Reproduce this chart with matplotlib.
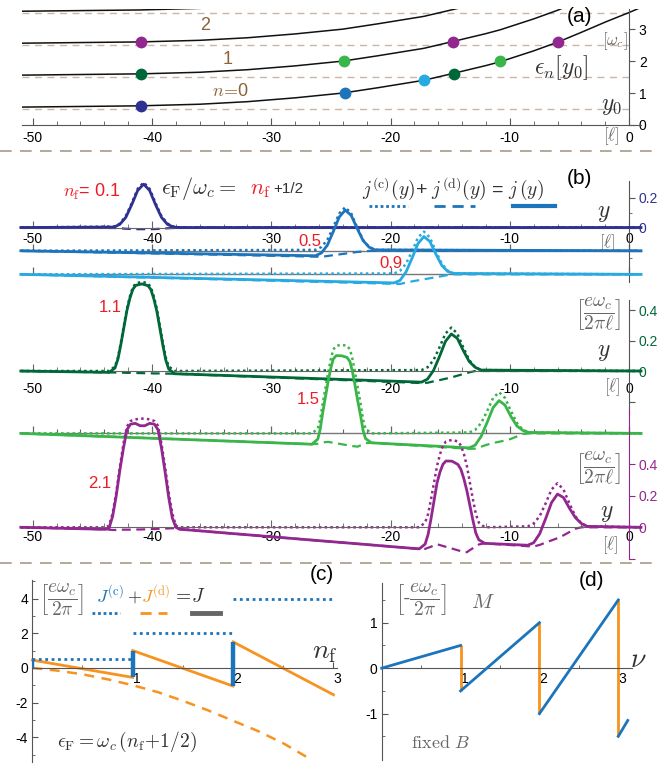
import numpy as np
import matplotlib
matplotlib.use('Agg')
import matplotlib.pyplot as plt

plt.rcParams['font.family'] = ['Liberation Sans', 'DejaVu Sans']
plt.rcParams['mathtext.fontset'] = 'cm'
plt.rcParams['axes.unicode_minus'] = False

# ======================= DATA =======================
# (a) edge potential V(y0): eps_n(y0) = n + 1/2 + V(y0)   [omega_c]
a_y0 = [-51, -46, -41, -36, -32, -28, -24, -21, -17.2, -14.8, -12, -10.8, -8, -6, -4, -2, 0, 1]
a_V = [0.06, 0.08, 0.1, 0.15, 0.23, 0.35, 0.5, 0.67, 0.9, 1.11, 1.36, 1.48, 1.82, 2.09, 2.4, 2.72, 3.02, 3.18]
a_levels = [0, 1, 2, 3]
a_ref_levels = [0.5, 1.5, 2.5, 3.5]
a_yticks = [0, 1, 2, 3]
x_ticks = [-50, -40, -30, -20, -10, 0]
x_ticklabels = ['-50', '-40', '-30', '-20', '-10', '0']
x_minor = [-48, -46, -44, -42, -38, -36, -34, -32, -28, -26, -24, -22, -18, -16, -14, -12, -8, -6, -4, -2]

dot_nf = [0.1, 0.5, 0.9, 1.1, 1.1, 1.5, 1.5, 2.1, 2.1, 2.1]
dot_y0 = [-40.9, -23.8, -17.2, -40.9, -14.7, -23.9, -10.8, -40.9, -14.8, -6.0]
dot_eps = [0.6, 1.0, 1.4, 1.6, 1.6, 2.0, 2.0, 2.6, 2.6, 2.6]

# (b) current densities [e omega_c / (2 pi l)]
b01_x = [-51, -43.2, -42.7, -42.2, -41.7, -41.2, -40.7, -40.2, -39.7, -39.2, -38.7, -38.2, -37.7, 1]
b01_jc = [0, 0.006, 0.026, 0.075, 0.162, 0.258, 0.30, 0.258, 0.162, 0.075, 0.026, 0.006, 0, 0]
b01_jd = [0, -0.003, -0.005, -0.008, -0.010, -0.011, -0.011, -0.011, -0.010, -0.008, -0.005, -0.003, 0, 0]
b01_j = [0, 0.003, 0.021, 0.067, 0.152, 0.247, 0.289, 0.247, 0.152, 0.067, 0.021, 0.003, 0, 0]

b05_x = [-51, -26.3, -25.8, -25.3, -24.8, -24.3, -23.8, -23.3, -22.8, -22.3, -21.8, -21.3, 1]
b05_jc = [0, 0.006, 0.025, 0.072, 0.157, 0.249, 0.29, 0.249, 0.157, 0.072, 0.025, 0.006, 0]
b05_jd = [0, -0.039, -0.040, -0.035, -0.029, -0.024, -0.019, -0.013, -0.008, -0.004, -0.001, 0, 0]
b05_j = [0, -0.033, -0.015, 0.037, 0.128, 0.225, 0.271, 0.236, 0.149, 0.068, 0.024, 0.006, 0]

b09_x = [-51, -19.7, -19.2, -18.7, -18.2, -17.7, -17.2, -16.7, -16.2, -15.7, -15.2, -14.7, 1]
b09_jc = [0, 0.006, 0.024, 0.071, 0.154, 0.245, 0.285, 0.245, 0.154, 0.071, 0.024, 0.006, 0]
b09_jd = [0, -0.063, -0.064, -0.055, -0.047, -0.040, -0.033, -0.026, -0.019, -0.012, -0.005, 0, 0]
b09_j = [0, -0.057, -0.040, 0.016, 0.107, 0.205, 0.252, 0.219, 0.135, 0.059, 0.019, 0.006, 0]

b11_x = [-51, -43.6, -43.1, -42.85, -42.6, -42.35, -42.1, -41.85, -41.6, -41.35, -40.85, -40.35, -40.1,
         -39.85, -39.6, -39.35, -39.1, -38.85, -38.6, -38.1,
         -17.4, -16.9, -16.4, -15.9, -15.4, -14.9, -14.4, -13.9, -13.4, -12.9, -12.4, 1]
b11_jc = [0, 0, 0.03, 0.09, 0.19, 0.30, 0.41, 0.49, 0.55, 0.575, 0.585, 0.575, 0.55, 0.49, 0.41, 0.30,
          0.19, 0.09, 0.03, 0,
          0.006, 0.024, 0.071, 0.154, 0.245, 0.285, 0.245, 0.154, 0.071, 0.024, 0.006, 0]
b11_jd = [0, -0.009, -0.010, -0.010, -0.011, -0.011, -0.012, -0.012, -0.013, -0.013, -0.014, -0.015, -0.015,
          -0.016, -0.016, -0.016, -0.017, -0.017, -0.017, -0.018,
          -0.079, -0.077, -0.068, -0.060, -0.051, -0.042, -0.031, -0.020, -0.009, 0, 0, 0]
b11_j = [0, -0.009, 0.020, 0.080, 0.179, 0.289, 0.398, 0.478, 0.537, 0.562, 0.571, 0.560, 0.535, 0.474,
         0.394, 0.284, 0.173, 0.073, 0.013, -0.018,
         -0.073, -0.053, 0.003, 0.094, 0.194, 0.243, 0.214, 0.134, 0.062, 0.024, 0.006, 0]

b15_x = [-51, -26.6, -26.1, -25.9, -25.7, -25.45, -25.2, -25.0, -24.8, -24.55, -24.1, -23.65, -23.4, -23.2,
         -23.0, -22.75, -22.5, -22.3, -22.1, -21.6,
         -13.4, -12.9, -12.4, -11.9, -11.4, -10.9, -10.4, -9.9, -9.4, -8.9, -8.4, 1]
b15_jc = [0, 0, 0.03, 0.09, 0.19, 0.30, 0.41, 0.49, 0.55, 0.575, 0.58, 0.575, 0.55, 0.49, 0.41, 0.30, 0.19,
          0.09, 0.03, 0,
          0.006, 0.023, 0.068, 0.146, 0.232, 0.27, 0.232, 0.146, 0.068, 0.023, 0.006, 0]
b15_jd = [0, -0.071, -0.068, -0.064, -0.061, -0.057, -0.056, -0.059, -0.062, -0.065, -0.071, -0.077, -0.080,
          -0.083, -0.085, -0.087, -0.078, -0.071, -0.064, -0.062,
          -0.101, -0.100, -0.087, -0.074, -0.063, -0.055, -0.047, -0.036, -0.020, -0.004, 0, 0]
b15_j = [0, -0.071, -0.038, 0.026, 0.129, 0.243, 0.354, 0.431, 0.488, 0.510, 0.509, 0.498, 0.470, 0.407,
         0.325, 0.213, 0.112, 0.019, -0.034, -0.062,
         -0.095, -0.077, -0.019, 0.072, 0.169, 0.215, 0.185, 0.110, 0.048, 0.019, 0.006, 0]

b21_x = [-51, -43.9, -43.6, -43.3, -43.0, -42.7, -42.4, -42.1, -41.8, -41.4, -41.0, -40.6, -40.2, -39.8,
         -39.5, -39.2, -38.9, -38.6, -38.3, -38.0, -37.7,
         -17.6, -17.1, -16.85, -16.6, -16.35, -16.1, -15.85, -15.6, -15.35, -14.85, -14.35, -14.1, -13.85,
         -13.6, -13.35, -13.1, -12.85, -12.6, -12.1,
         -8.5, -8.0, -7.5, -7.0, -6.5, -6.0, -5.5, -5.0, -4.5, -4.0, -3.5, 1]
b21_jc = [0, 0, 0.01, 0.09, 0.22, 0.38, 0.53, 0.64, 0.675, 0.685, 0.69, 0.69, 0.685, 0.675, 0.645, 0.53,
          0.38, 0.22, 0.09, 0.01, 0,
          0.0, 0.03, 0.085, 0.18, 0.285, 0.39, 0.465, 0.52, 0.545, 0.555, 0.545, 0.52, 0.465, 0.39, 0.285,
          0.18, 0.085, 0.03, 0.0,
          0.006, 0.024, 0.07, 0.151, 0.24, 0.28, 0.24, 0.151, 0.07, 0.024, 0.006, 0]
b21_jd = [0, -0.013, -0.015, -0.017, -0.017, -0.016, -0.015, -0.015, -0.015, -0.014, -0.014, -0.013, -0.012,
          -0.011, -0.010, -0.009, -0.008, -0.007, -0.006, -0.006, -0.012,
          -0.137, -0.137, -0.13, -0.123, -0.115, -0.108, -0.113, -0.119, -0.124, -0.135, -0.146, -0.152,
          -0.157, -0.158, -0.145, -0.133, -0.121, -0.109, -0.102,
          -0.120, -0.122, -0.112, -0.097, -0.083, -0.069, -0.051, -0.030, -0.009, 0, 0, 0]
b21_j = [0, -0.013, -0.005, 0.07, 0.20, 0.36, 0.50, 0.62, 0.655, 0.66, 0.645, 0.645, 0.66, 0.655, 0.62,
         0.50, 0.35, 0.19, 0.06, 0.0, -0.012,
         -0.137, -0.107, -0.045, 0.057, 0.17, 0.282, 0.352, 0.401, 0.421, 0.42, 0.399, 0.368, 0.308, 0.232,
         0.14, 0.047, -0.036, -0.079, -0.102,
         -0.114, -0.098, -0.042, 0.054, 0.157, 0.211, 0.189, 0.121, 0.061, 0.024, 0.006, 0]

# (c) total currents [e omega_c / 2 pi]
c_J_nf = [[0, 1], [1, 2], [2, 3]]
c_J = [[0.45, -0.55], [1.0, -1.05], [1.5, -1.55]]
c_Jc = [0.5, 2.0, 4.0]
c_Jd_nf = [0, 0.25, 0.5, 0.75, 1, 1.25, 1.5, 1.75, 2, 2.25, 2.5, 2.78]
c_Jd = [0, -0.16, -0.37, -0.66, -1.0, -1.4, -1.9, -2.45, -3.05, -3.65, -4.35, -5.3]
c_jump_nf = [0, 1, 2]
c_jump_lo = [0, -0.55, -1.05]
c_jump_hi = [0.5, 1.0, 1.5]

# (d) magnetization [-e omega_c / 2 pi]
d_nu = [[0, 1], [1, 2], [2, 3], [3, 3.12]]
d_M = [[0, 0.5], [-0.5, 1.0], [-1.0, 1.5], [-1.5, -1.15]]
d_jump_nu = [1, 2, 3]
d_jump_hi = [0.5, 1.0, 1.5]
d_jump_lo = [-0.5, -1.0, -1.5]

# ======================= STYLE =======================
COL = {0.1: '#2e3192', 0.5: '#1c75bc', 0.9: '#27aae1', 1.1: '#006838', 1.5: '#39b54a', 2.1: '#92278f'}
RED = '#ed1c24'
BROWN = '#8c6239'
ORANGE = '#f7931e'
BLUE = '#1c75bc'
AXC = '#555555'
TXT = '#333333'
GRY = '#666666'

W, H = 657, 766
fig = plt.figure(figsize=(W / 100, H / 100), dpi=100)


def add_ax(l, t, r, b):
    ax = fig.add_axes([l / W, 1 - b / H, (r - l) / W, (b - t) / H])
    ax.patch.set_alpha(0)
    return ax


XL = (-50.9, 1.0)

# ======================= (a) =======================
axA = add_ax(22, 9, 641, 125)
axA.set_xlim(*XL)
axA.set_ylim(0, 3.63)
for s in ['top', 'left']:
    axA.spines[s].set_visible(False)
axA.spines['right'].set_position(('data', 0))
for s in ['right', 'bottom']:
    axA.spines[s].set_color(AXC)
axA.yaxis.set_ticks_position('right')
axA.set_yticks(a_yticks)
axA.set_yticklabels([str(v) for v in a_yticks])
axA.tick_params(axis='y', direction='out', length=4, colors=AXC, labelcolor='k', labelsize=10, pad=3)
axA.set_xticks(x_ticks)
axA.set_xticklabels(x_ticklabels)
axA.set_xticks(x_minor, minor=True)
axA.tick_params(axis='x', which='major', direction='in', length=5, colors=AXC, labelcolor='k', labelsize=10, pad=4)
axA.tick_params(axis='x', which='minor', direction='in', length=3, colors=AXC)
axA.hlines(a_ref_levels, XL[0], 0, colors='#c8b7a6', linestyles=(0, (5, 4)), lw=1.0)
for n in a_levels:
    axA.plot(a_y0, [n + 0.5 + v for v in a_V], color='#111111', lw=1.1)
for nf, y0, e in zip(dot_nf, dot_y0, dot_eps):
    axA.plot([y0], [e], 'o', ms=8.5, color=COL[nf], mec='none', zorder=4)

# ======================= (b) =======================
def setup_b(ax, ylim, yticks, ylabels, lcol, scol, pad):
    ax.set_xlim(*XL)
    ax.set_ylim(*ylim)
    for s in ['top', 'left']:
        ax.spines[s].set_visible(False)
    ax.spines['right'].set_position(('data', 0))
    ax.spines['right'].set_color(scol)
    ax.spines['bottom'].set_position(('data', 0))
    ax.spines['bottom'].set_color('#666666')
    ax.yaxis.set_ticks_position('right')
    ax.set_yticks(yticks)
    ax.set_yticklabels(ylabels)
    ax.tick_params(axis='y', direction='out', length=4, colors=scol, labelcolor=lcol, labelsize=10, pad=3)
    ax.set_xticks(x_ticks)
    ax.set_xticklabels(x_ticklabels)
    ax.set_xticks(x_minor, minor=True)
    ax.tick_params(axis='x', which='major', direction='in', length=5, colors='#666666', labelcolor='k',
                   labelsize=10, pad=pad)
    ax.tick_params(axis='x', which='minor', direction='in', length=3, colors='#666666')


def draw_curve(ax, x, jc, jd, j, off, col, base=True, minor=False):
    if base:
        ax.plot(XL, [off, off], color='#777777', lw=1.0, clip_on=False, zorder=1)
        ax.plot(x_ticks, [off] * len(x_ticks), ls='none', marker=2, ms=5, mew=0.9, color='#666666',
                clip_on=False, zorder=1)
        if minor:
            ax.plot(x_minor, [off] * len(x_minor), ls='none', marker=2, ms=3, mew=0.8, color='#666666',
                    clip_on=False, zorder=1)
    ax.plot(x, np.array(jc) + off, ls=(0, (1, 1.3)), lw=1.8, color=col, clip_on=False, zorder=2)
    ax.plot(x, np.array(jd) + off, ls=(0, (4, 2.5)), lw=1.6, color=col, clip_on=False, zorder=2)
    ax.plot(x, np.array(j) + off, ls='-', lw=2.0, color=col, clip_on=False, zorder=3,
            solid_joinstyle='round')


# b1
axB1 = add_ax(22, 181, 641, 282)
setup_b(axB1, (-0.363, 0.31), [0, 0.2], ['0', '0.2'], COL[0.1], '#555555', 3)
axB1.set_yticks([0.1, -0.2], minor=True)
axB1.tick_params(axis='y', which='minor', direction='out', length=2.5, colors='#555555')
draw_curve(axB1, b01_x, b01_jc, b01_jd, b01_j, 0.0, COL[0.1], base=False)
draw_curve(axB1, b05_x, b05_jc, b05_jd, b05_j, -0.155, COL[0.5])
draw_curve(axB1, b09_x, b09_jc, b09_jd, b09_j, -0.312, COL[0.9])

# b2
axB2 = add_ax(22, 300, 641, 415)
setup_b(axB2, (-0.2885, 0.4656), [-0.2, 0, 0.2, 0.4], ['', '0', '0.2', '0.4'], COL[1.1], '#555555', 8)
draw_curve(axB2, b11_x, b11_jc, b11_jd, b11_j, 0.0, COL[1.1], base=False)
draw_curve(axB2, b15_x, b15_jc, b15_jd, b15_j, -0.409, COL[1.5], minor=True)

# b3
axB3 = add_ax(22, 410, 641, 559)
setup_b(axB3, (-0.2013, 0.7448), [-0.2, 0, 0.2, 0.4], ['', '0', '0.2', '0.4'], COL[2.1], COL[2.1], 2)
draw_curve(axB3, b21_x, b21_jc, b21_jd, b21_j, 0.0, COL[2.1], base=False)

# ======================= (c) =======================
axC = add_ax(32.3, 580, 337, 762)
axC.set_xlim(0, 3.035)
axC.set_ylim(-5.43, 5.07)
for s in ['top', 'right']:
    axC.spines[s].set_visible(False)
axC.spines['bottom'].set_position(('data', 0))
for s in ['left', 'bottom']:
    axC.spines[s].set_color(AXC)
axC.set_xticks([1, 2, 3])
axC.set_xticklabels(['1', '2', '3'])
axC.set_xticks([0.5, 1.5, 2.5], minor=True)
axC.set_yticks([-4, -2, 0, 2, 4])
axC.set_yticklabels(['-4', '-2', '0', '2', '4'])
axC.set_yticks([-5, -3, -1, 1, 3, 5], minor=True)
axC.tick_params(which='major', direction='in', length=4, colors=AXC, labelcolor='k', labelsize=10, pad=3)
axC.tick_params(which='minor', direction='in', length=2.5, colors=AXC)
for lab in axC.get_xticklabels():
    lab.set_ha('left')
for xs, js in zip(c_J_nf, c_J):
    axC.plot(xs, js, color=ORANGE, lw=2.0, clip_on=False)
for (x0, x1), jc in zip(c_J_nf, c_Jc):
    axC.plot([x0, x1], [jc, jc], ls=(0, (1, 1.3)), lw=2.0, color=BLUE, clip_on=False)
axC.plot(c_Jd_nf, c_Jd, ls=(0, (4, 3)), lw=1.8, color=ORANGE, clip_on=False)
axC.vlines(c_jump_nf, c_jump_lo, c_jump_hi, colors=BLUE, lw=3.2, zorder=4)

# ======================= (d) =======================
axD = add_ax(381.7, 582.7, 631.7, 760)
axD.set_xlim(0, 3.17)
axD.set_ylim(-2.02, 1.88)
for s in ['top', 'right']:
    axD.spines[s].set_visible(False)
axD.spines['bottom'].set_position(('data', 0))
for s in ['left', 'bottom']:
    axD.spines[s].set_color(AXC)
axD.set_xticks([1, 2, 3])
axD.set_xticklabels(['1', '2', '3'])
axD.set_xticks([0.5, 1.5, 2.5], minor=True)
axD.set_yticks([-1, 0, 1])
axD.set_yticklabels(['-1', '0', '1'])
axD.set_yticks([-1.5, -0.5, 0.5, 1.5], minor=True)
axD.tick_params(which='major', direction='in', length=4, colors=AXC, labelcolor='k', labelsize=10, pad=3)
axD.tick_params(which='minor', direction='in', length=2.5, colors=AXC)
for lab in axD.get_xticklabels():
    lab.set_ha('left')
axD.vlines(d_jump_nu, d_jump_lo, d_jump_hi, colors=ORANGE, lw=2.0, zorder=2)
for xs, ms in zip(d_nu, d_M):
    axD.plot(xs, ms, color=BLUE, lw=2.0, zorder=3, clip_on=False)

# ======================= overlay (text, separators, legend samples) =======================
ov = fig.add_axes([0, 0, 1, 1])
ov.set_xlim(0, W)
ov.set_ylim(H, 0)
ov.axis('off')
ov.patch.set_alpha(0)
ov.set_zorder(10)


def T(x, y, s, size=12, color=TXT, ha='center', va='center', **kw):
    ov.text(x, y, s, fontsize=size, color=color, ha=ha, va=va, **kw)


for yy in [151, 563]:
    ov.plot([0, W], [yy, yy], color='#a89a8c', lw=1.2, ls=(0, (7, 5)))

# (a) texts
T(580, 17, '(a)', 15, 'k')
T(615, 41, r'$[\omega_c]$', 12, GRY)
T(561, 68, r'$\epsilon_n[y_0]$', 17)
T(612, 106, r'$y_0$', 17)
T(611, 136, r'$[\ell]$', 12, GRY)
T(205, 25, '2', 13, BROWN)
T(228, 60, '1', 13, BROWN)
T(231, 92, r'$n\!=\!$0', 13, BROWN)

# (b) texts
T(579, 178, '(b)', 15, 'k')
T(63, 192, r'$n_{\rm f}$= 0.1', 13, RED, ha='left')
T(161, 189, r'$\epsilon_{\rm F}/\omega_c=$', 16, ha='left')
T(250, 190, r'$n_{\rm f}$', 16, RED, ha='left')
T(273, 189, '+1/2', 11, TXT, ha='left')
T(362, 189, r'$j^{\rm (c)}(y)$+ $j^{\rm (d)}(y)$ = $j\,(y)$', 14, ha='left')
ov.plot([369, 408], [206, 206], ls=(0, (1, 1)), lw=2, color=BLUE)
ov.plot([434, 475], [206, 206], ls=(0, (4, 2.5)), lw=2, color=BLUE)
ov.plot([513, 555], [206, 206], ls='-', lw=3, color=BLUE)
for yy in [213, 352]:
    T(604, yy, r'$y$', 17)
T(607, 513, r'$y$', 17)
T(607, 243, r'$[\ell]$', 12, GRY)
T(612, 387, r'$[\ell]$', 12, GRY)
T(610, 545, r'$[\ell]$', 12, GRY)
T(310, 241, '0.5', 12, RED)
T(391, 264, '0.9', 12, RED)
T(110, 307, '1.1', 12, RED)
T(308, 400, '1.5', 12, RED)
T(100, 483, '2.1', 12, RED)
T(598, 314, r'$\left[\dfrac{e\omega_c}{2\pi\ell}\right]$', 14, GRY)
T(598, 468, r'$\left[\dfrac{e\omega_c}{2\pi\ell}\right]$', 14, GRY)

# (c) texts
T(322, 574, '(c)', 15, 'k')
T(62, 600, r'$\left[\dfrac{e\omega_c}{2\pi}\right]$', 14, GRY)
T(96, 595, r'$J^{\rm (c)}$', 13, BLUE, ha='left')
T(127, 597, r'$+$', 13, TXT, ha='left')
T(141, 595, r'$J^{\rm (d)}$', 13, ORANGE, ha='left')
T(172, 597, r'$=\!J$', 14, TXT, ha='left')
ov.plot([92, 120], [613, 613], ls=(0, (1, 1)), lw=2, color=BLUE)
ov.plot([140, 167], [613, 613], ls=(0, (4, 2.5)), lw=2, color=ORANGE)
ov.plot([192, 220], [613, 613], ls='-', lw=3.5, color='#666666')
T(325, 652, r'$n_{\rm f}$', 20)
T(127, 742, r'$\epsilon_{\rm F}=\omega_c\,(n_{\rm f}\!+\!1/2)$', 14)

# (d) texts
T(591, 580, '(d)', 15, 'k')
T(421, 600, r'$\left[\text{-}\dfrac{e\omega_c}{2\pi}\right]$', 14, GRY)
T(483, 602, r'$M$', 15, GRY)
T(638, 660, r'$\nu$', 20)
T(440, 743, r'$\mathrm{fixed}\ B$', 13, GRY)

fig.savefig('out.png', dpi=100)
